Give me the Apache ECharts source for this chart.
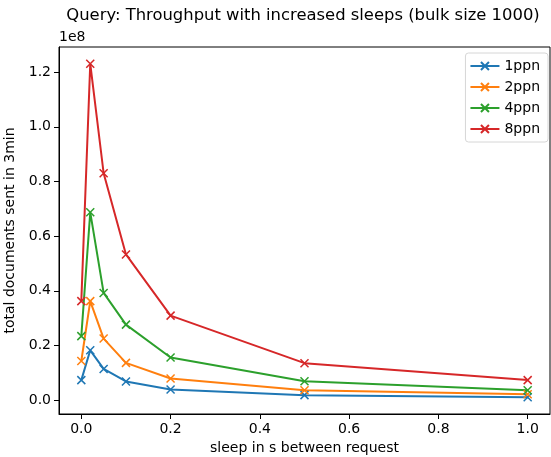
<!DOCTYPE html>
<html>
<head>
<meta charset="utf-8">
<script src="https://cdn.jsdelivr.net/npm/echarts@6/dist/echarts.min.js"></script>
<style>
  html, body { margin: 0; padding: 0; background: #fff; }
  #main { width: 551px; height: 457px; }
</style>
</head>
<body>
<div id="main"></div>
<script>
// sleep between requests (s)
var sleeps = [0, 0.02, 0.05, 0.1, 0.2, 0.5, 1.0];
// total documents sent in 3 min
var ppn1 = [7.3e6, 1.82e7, 1.14e7, 6.8e6, 3.9e6, 1.8e6, 1.0e6];
var ppn2 = [1.43e7, 3.62e7, 2.25e7, 1.36e7, 7.9e6, 3.6e6, 2.1e6];
var ppn4 = [2.34e7, 6.87e7, 3.92e7, 2.76e7, 1.56e7, 6.9e6, 3.6e6];
var ppn8 = [3.62e7, 1.231e8, 8.3e7, 5.33e7, 3.09e7, 1.35e7, 7.3e6];
var names = ['1ppn', '2ppn', '4ppn', '8ppn'];
var colors = ['#1f77b4', '#ff7f0e', '#2ca02c', '#d62728'];
var xTicks = [0, 0.2, 0.4, 0.6, 0.8, 1.0];
var yTicks = [0, 0.2e8, 0.4e8, 0.6e8, 0.8e8, 1.0e8, 1.2e8];

var font = 'DejaVu Sans';
var cross = 'path://M0,0L10,10M10,0L0,10';

function pairs(vals) {
  return sleeps.map(function (s, i) { return [s, vals[i]]; });
}

var chart = echarts.init(document.getElementById('main'));

var series = [ppn1, ppn2, ppn4, ppn8].map(function (vals, i) {
  return {
    name: names[i],
    type: 'line',
    data: pairs(vals),
    symbol: cross,
    symbolSize: 8,
    showAllSymbol: true,
    lineStyle: { color: colors[i], width: 2 },
    itemStyle: { color: 'transparent', borderColor: colors[i], borderWidth: 1.5 },
    emphasis: { disabled: true },
    animation: false
  };
});

chart.setOption({
  animation: false,
  textStyle: { fontFamily: font, color: '#000' },
  graphic: [{
    type: 'text',
    x: 303,
    y: 8,
    style: {
      text: 'Query: Throughput with increased sleeps (bulk size 1000)',
      fontFamily: font, fontSize: 16.4, fill: '#000', align: 'center'
    }
  }, {
    type: 'text',
    left: 59,
    top: 30,
    style: { text: '1e8', fontFamily: font, fontSize: 14, fill: '#000' }
  }],
  legend: {
    orient: 'vertical',
    right: 3,
    top: 53,
    itemWidth: 29,
    itemHeight: 10,
    itemGap: 7,
    padding: [6, 8, 6, 4],
    borderColor: '#d6d6d6',
    borderWidth: 1,
    borderRadius: 3,
    backgroundColor: '#fff',
    textStyle: { fontFamily: font, fontSize: 14, color: '#000' },
    data: names
  },
  grid: {
    left: 59, right: 1, top: 47, bottom: 43,
    outerBoundsMode: 'none',
    containLabel: false,
    show: true, borderColor: '#000', borderWidth: 1, backgroundColor: 'transparent'
  },
  xAxis: {
    type: 'value',
    min: -0.05,
    max: 1.05,
    name: 'sleep in s between request',
    nameLocation: 'middle',
    nameGap: 27,
    nameTextStyle: { fontFamily: font, fontSize: 14, color: '#000' },
    axisLine: { show: true, onZero: false, lineStyle: { color: '#000', width: 1 } },
    axisTick: { show: true, inside: false, length: 5, lineStyle: { color: '#000' }, customValues: xTicks },
    axisLabel: {
      fontFamily: font, fontSize: 14, color: '#000', margin: 8,
      customValues: xTicks,
      formatter: function (v) { return v.toFixed(1); }
    },
    splitLine: { show: false }
  },
  yAxis: {
    type: 'value',
    min: -0.051e8,
    max: 1.292e8,
    name: 'total documents sent in 3min',
    nameLocation: 'middle',
    nameGap: 38,
    nameRotate: 90,
    nameTextStyle: { fontFamily: font, fontSize: 14, color: '#000' },
    axisLine: { show: true, onZero: false, lineStyle: { color: '#000', width: 1 } },
    axisTick: { show: true, inside: false, length: 5, lineStyle: { color: '#000' }, customValues: yTicks },
    axisLabel: {
      fontFamily: font, fontSize: 14, color: '#000', margin: 8,
      customValues: yTicks,
      formatter: function (v) { return (v / 1e8).toFixed(1); }
    },
    splitLine: { show: false }
  },
  series: series
});
</script>
</body>
</html>
